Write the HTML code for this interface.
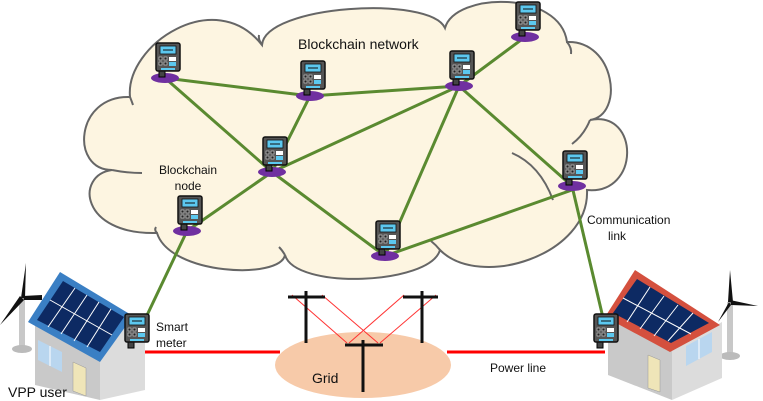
<!DOCTYPE html>
<html><head><meta charset="utf-8"><style>
html,body{margin:0;padding:0;background:#fff;}
svg{display:block;font-family:"Liberation Sans",Arial,sans-serif;}
</style></head><body>
<svg width="763" height="401" viewBox="0 0 763 401" xmlns="http://www.w3.org/2000/svg">
<defs>
<g id="m">
<rect x="-9" y="-8" width="6" height="8" fill="#444" stroke="#000" stroke-width="1"/>
<rect x="-12" y="-34" width="24" height="28" rx="2" fill="#555" stroke="#111" stroke-width="1.5"/>
<rect x="-8" y="-31" width="16" height="8" fill="#5cc8ef" stroke="#111" stroke-width="0.8"/>
<line x1="-5" y1="-27" x2="5" y2="-27" stroke="#111" stroke-width="1"/>
<g fill="#222" stroke="#ddd" stroke-width="0.6">
<rect x="-9" y="-20" width="3" height="3"/><rect x="-4" y="-20" width="3" height="3"/>
<rect x="-9" y="-15" width="3" height="3"/><rect x="-4" y="-15" width="3" height="3"/>
</g>
<rect x="1" y="-20" width="7" height="4" fill="#fff"/><rect x="1" y="-15" width="7" height="4" fill="#5cc8ef"/>
<rect x="-7" y="-9" width="14" height="2" fill="#5cc8ef"/>
</g>
<g id="n">
<ellipse cx="0" cy="0" rx="14" ry="5" fill="#7030a0"/>
<g transform="translate(3,-1)"><use href="#m"/></g>
</g>
</defs>

<!-- cloud -->
<path d="M130,97 C125,45 215,-15 262,45 C265,5 430,-5 445,28 C455,-8 560,-10 567,42 C615,40 625,115 590,120 C640,110 640,195 587,190 C590,255 480,290 440,250 C430,285 295,290 285,255 C280,280 170,275 157,233 C80,235 75,175 112,170 C70,170 75,95 130,97 Z" fill="#fdf5e1" stroke="#666" stroke-width="2"/>
<g fill="none" stroke="#666" stroke-width="2">
<path d="M130,97 q2,5 3,8"/>
<path d="M112,170 q15,3 30,3"/>
<path d="M262,45 q-4,-6 -3,-10"/>
<path d="M567,42 q5,6 4,12"/>
<path d="M590,120 q-6,15 -18,24"/>
<path d="M512,153 q28,12 41,47"/>
<path d="M440,250 q-4,-5 -9,-9"/>
<path d="M285,255 q-3,-5 -6,-8"/>
<path d="M157,233 q-3,-3 -1,-6"/>
</g>

<!-- edges -->
<g stroke="#5a8a30" stroke-width="3" fill="none">
<line x1="165" y1="78" x2="310" y2="96"/>
<line x1="310" y1="96" x2="459" y2="86"/>
<line x1="459" y1="86" x2="525" y2="37"/>
<line x1="165" y1="78" x2="272" y2="172"/>
<line x1="310" y1="96" x2="272" y2="172"/>
<line x1="459" y1="86" x2="272" y2="172"/>
<line x1="459" y1="86" x2="385" y2="256"/>
<line x1="459" y1="86" x2="572" y2="186"/>
<line x1="272" y1="172" x2="187" y2="231"/>
<line x1="272" y1="172" x2="385" y2="256"/>
<line x1="385" y1="256" x2="572" y2="190"/>
<line x1="187" y1="231" x2="140" y2="330"/>
<line x1="572" y1="186" x2="604" y2="322"/>
</g>

<use href="#n" x="165" y="78"/>
<use href="#n" x="310" y="96"/>
<use href="#n" x="459" y="86"/>
<use href="#n" x="525" y="37"/>
<use href="#n" x="272" y="172"/>
<use href="#n" x="572" y="186"/>
<use href="#n" x="187" y="231"/>
<use href="#n" x="385" y="256"/>

<text x="298" y="49" font-size="14" fill="#111">Blockchain network</text>
<text x="188" y="174" font-size="12" fill="#111" text-anchor="middle">Blockchain</text>
<text x="188" y="190" font-size="12" fill="#111" text-anchor="middle">node</text>
<text x="587" y="224" font-size="12" fill="#111">Communication</text>
<text x="608" y="240" font-size="12" fill="#111">link</text>

<!-- grid -->
<ellipse cx="363" cy="365" rx="88" ry="33" fill="#f7caa9"/>
<line x1="145" y1="352" x2="280" y2="352" stroke="#f00" stroke-width="3"/>
<line x1="447" y1="352" x2="605" y2="352" stroke="#f00" stroke-width="3"/>
<g stroke="#f33" stroke-width="1">
<line x1="292" y1="295" x2="347" y2="343"/><line x1="322" y1="295" x2="378" y2="343"/>
<line x1="404" y1="295" x2="349" y2="343"/><line x1="436" y1="295" x2="380" y2="343"/>
</g>
<g stroke="#111" stroke-width="3">
<line x1="306" y1="291" x2="306" y2="343"/><line x1="288" y1="297" x2="325" y2="297"/>
<line x1="422" y1="291" x2="422" y2="343"/><line x1="403" y1="297" x2="438" y2="297"/>
<line x1="363" y1="340" x2="363" y2="392"/><line x1="345" y1="345" x2="383" y2="345"/>
</g>
<text x="312" y="383" font-size="14" fill="#111">Grid</text>
<text x="490" y="372" font-size="12" fill="#111">Power line</text>

<!-- left turbine -->
<rect x="19" y="298" width="6" height="50" fill="#c8c8c8"/>
<ellipse cx="22" cy="349" rx="10" ry="4" fill="#bbb"/>
<g fill="#111">
<polygon points="21,298 26,263 25,298"/>
<polygon points="20,296 0,325 24,300"/>
<polygon points="23,296 42,295 42,300 24,300"/>
</g>
<!-- left house -->
<polygon points="35,325 100,358 100,400 35,385" fill="#c9c9c9"/>
<polygon points="100,358 130,318 145,335 145,390 100,400" fill="#dcdcdc"/>
<polygon points="38,340 62,352 62,372 38,360" fill="#b9d6ef"/>
<line x1="50" y1="346" x2="50" y2="366" stroke="#fff"/>
<polygon points="73,362 86,368 86,396 73,391" fill="#efe5b8" stroke="#999" stroke-width="0.5"/>
<polygon points="28,322 60,272 133,316 100,362" fill="#3a7fc4"/>
<polygon points="37,320 63,281 124,317 100,352" fill="#0d2a63"/>
<g stroke="#fff" stroke-width="1">
<line x1="50" y1="300" x2="112" y2="335"/>
<line x1="75" y1="288" x2="48" y2="327"/><line x1="87" y1="295" x2="61" y2="334"/><line x1="99" y1="302" x2="74" y2="341"/><line x1="111" y1="309" x2="87" y2="347"/>
</g>
<use href="#m" x="137" y="348"/>
<text x="156" y="331" font-size="12" fill="#111">Smart</text>
<text x="156" y="347" font-size="12" fill="#111">meter</text>
<text x="8" y="397" font-size="14" fill="#111">VPP user</text>

<!-- right turbine -->
<rect x="727" y="302" width="6" height="52" fill="#c8c8c8"/>
<ellipse cx="730" cy="356" rx="10" ry="4" fill="#bbb"/>
<g fill="#111">
<polygon points="728,302 730,270 733,302"/>
<polygon points="730,300 758,306 731,305"/>
<polygon points="729,302 718,322 731,305"/>
</g>
<!-- right house -->
<polygon points="608,318 672,350 672,400 608,375" fill="#c9c9c9"/>
<polygon points="672,350 722,322 722,378 672,400" fill="#dcdcdc"/>
<polygon points="686,346 712,332 712,352 686,366" fill="#b9d6ef"/>
<line x1="699" y1="339" x2="699" y2="359" stroke="#fff"/>
<polygon points="648,355 660,360 660,392 648,388" fill="#efe5b8" stroke="#999" stroke-width="0.5"/>
<polygon points="605,317 635,270 720,325 670,352" fill="#d4503e"/>
<polygon points="613,313 637,279 709,323 671,343" fill="#0d2a63"/>
<g stroke="#fff" stroke-width="1">
<line x1="623" y1="298" x2="691" y2="334"/>
<line x1="650" y1="287" x2="627" y2="322"/><line x1="664" y1="296" x2="640" y2="329"/><line x1="678" y1="305" x2="654" y2="336"/><line x1="693" y1="313" x2="668" y2="341"/>
</g>
<use href="#m" x="606" y="348"/>
</svg>
</body></html>
